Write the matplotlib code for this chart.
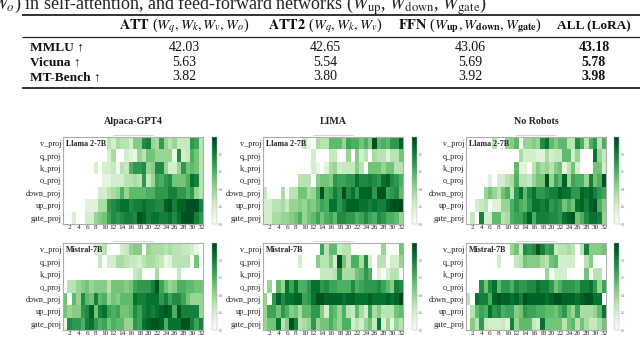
import numpy as np
import matplotlib
matplotlib.use("Agg")
import matplotlib.pyplot as plt

plt.rcParams['font.family'] = ['Liberation Serif', 'DejaVu Serif']
plt.rcParams['mathtext.fontset'] = 'stix'

W, H = 640, 337
layers = list(range(1, 33))
x_ticks = list(range(2, 33, 2))
modules = ["v_proj", "q_proj", "k_proj", "o_proj", "down_proj", "up_proj", "gate_proj"]
dataset_titles = ["Alpaca-GPT4", "LIMA", "No Robots"]

table_columns = [r"$\mathbf{ATT}$ ($W_q, W_k, W_v, W_o$)", r"$\mathbf{ATT2}$ ($W_q, W_k, W_v$)",
                 r"$\mathbf{FFN}$ ($W_{\mathbf{up}}, W_{\mathbf{down}}, W_{\mathbf{gate}}$)", "ALL (LoRA)"]
table_rows = ["MMLU ↑", "Vicuna ↑", "MT-Bench ↑"]
table_values = [["42.03", "42.65", "43.06", "43.18"],
                ["5.63", "5.54", "5.69", "5.78"],
                ["3.82", "3.80", "3.92", "3.98"]]

alpaca_llama = [
 [0,0,0,0,0,0,0,0,0,0,.3,.2,.35,.3,.3,.2,.45,.45,.75,.8,.4,.35,.7,.4,.3,.4,.25,.25,.25,.7,.65,.3],
 [0,0,0,0,0,0,0,0,0,0,.2,.35,0,0,.2,.15,.1,.4,.3,.5,.5,.4,.4,.4,.4,.1,.75,.2,.25,.6,.5,.3],
 [0,0,0,0,0,0,0,.2,0,.2,.2,.25,.05,.3,.25,.6,.7,.7,.75,.4,.45,.75,.75,.4,.2,.2,.4,.7,.5,.55,.5,.3],
 [0,0,0,0,0,0,0,0,0,.12,.12,.2,.2,.2,.3,.3,.35,.3,.7,.25,.4,.65,.6,.7,.75,.5,.5,.5,.6,.85,.8,.3],
 [0,0,0,0,0,0,0,0,.2,.2,.3,.35,.4,.6,.4,.55,.55,.55,.55,.6,.6,.7,.7,.7,.8,.8,.7,.7,.6,.7,.4,.3],
 [0,0,0,0,0,.15,.15,.15,.35,.35,.7,.75,.8,.85,.85,.75,.8,.8,.85,.8,.8,.75,.75,.9,.95,.8,.9,.9,.95,.95,.95,.8],
 [0,0,.18,0,0,.2,.2,.4,.45,.5,.65,.75,.7,.75,.8,.8,.75,.95,.9,.8,.85,.85,.8,.8,.85,.75,.85,.95,.95,.95,.8,.7],
]
alpaca_mistral = [
 [0,0,0,0,0,0,0,.2,.2,.3,0,0,0,.2,.25,.4,.45,.45,0,.4,.35,.35,.35,.3,.35,.3,.3,.25,.25,.2,.1,0],
 [0,0,0,0,0,0,0,0,.25,0,.2,.2,.35,.35,.3,.25,.25,.2,.3,.35,.35,.3,.25,.1,.15,.3,.3,.3,.3,0,.5,0],
 [0,0,0,0,0,0,0,0,0,0,0,0,0,0,0,0,.25,.3,0,0,0,.35,0,0,0,0,.25,0,0,0,0,0],
 [0,.3,.3,.4,.45,.5,.4,.45,.45,.45,.3,.5,.5,.5,.45,.5,.65,.7,.7,.7,.8,.95,.65,.5,.4,.45,.6,.6,.55,.55,.5,.5],
 [.5,0,.55,.4,.75,.55,.5,.8,.55,.6,.4,.5,.45,.55,.55,.55,.85,.8,.8,.85,.85,.85,.7,.8,.65,.75,.75,.65,.5,.4,.4,.4],
 [.5,.4,.45,.45,.7,.75,.9,.5,.8,.85,.65,.6,.65,.5,.5,.55,.75,.65,.8,.85,.8,.85,.9,.95,.9,.6,.95,.8,.8,.8,.8,.4],
 [.1,.75,.7,.7,.6,.8,.85,.7,.6,.65,.5,.6,.55,.55,.4,.4,.7,.65,.85,.9,.95,.95,.9,.6,.85,.85,.85,.95,.95,.8,.65,.8],
]
lima_llama = [
 [0,0,0,0,0,0,0,0,0,.25,.1,0,.35,.3,.3,.55,.55,.55,.4,.65,.6,.6,.5,.6,.45,.95,.55,.6,.55,.7,.7,.9],
 [0,0,0,0,0,0,0,0,0,0,0,.2,0,0,0,.25,.25,0,0,.4,0,.45,.2,.3,0,.35,.3,.3,.15,.3,.3,.5],
 [0,0,0,0,0,0,0,0,0,0,0,.2,.1,0,.15,.35,.4,.2,.25,.25,.25,.45,.3,0,.5,.5,.5,.4,.5,.5,.3,.3],
 [0,0,0,0,0,0,0,0,.3,.3,.3,0,.45,.5,.5,.45,.7,.65,.65,.7,.7,.85,.75,.75,.8,.75,.7,.85,.9,.75,.7,.6],
 [.25,0,0,0,.35,0,.3,.3,.5,.5,.35,.4,.6,.95,.6,.65,.8,.7,.95,.75,.85,.7,.9,.9,.9,.7,.95,.95,.65,.7,.75,.55],
 [.2,.2,.3,.3,.35,.25,.4,.4,.45,.4,.5,.45,.55,.65,.6,.85,.85,.7,.8,.9,.9,.9,.85,.85,.8,.85,.8,.8,.9,.95,.95,1],
 [.2,.2,.35,.35,.4,.4,.45,.5,.6,.4,.5,.55,.65,.5,.6,.65,.55,.75,.75,.7,.7,.6,.65,.75,.65,.6,.75,.7,.6,.6,.55,.4],
]
lima_mistral = [
 [0,0,0,0,0,0,0,0,0,0,0,0,0,.65,.3,.55,.55,.25,.3,.3,0,0,0,0,0,0,0,.4,0,0,0,.5],
 [0,0,0,0,0,0,0,0,.2,0,0,0,.45,.3,.3,.45,.2,.95,.5,.3,.6,.6,.35,.75,.2,0,.3,.3,0,.2,.2,.4],
 [0,0,0,0,0,0,0,0,0,0,0,0,0,.25,.25,.25,.3,.7,.35,.35,.35,.5,.55,.7,.6,0,.15,0,.2,.3,.3,0],
 [0,.4,0,.55,.4,.85,.65,.85,.6,.6,.7,.85,.85,.7,.75,.65,.65,.6,.6,.6,.75,.6,.65,.7,.7,.7,.75,.65,.55,.45,.8,.75],
 [.4,0,.7,.9,.75,.85,.85,.9,.9,.65,.7,.85,.95,.95,.9,.9,.9,.9,.85,.9,.9,.85,.85,.85,.9,.85,.85,.85,.9,.85,.9,1],
 [.4,.65,.65,.5,.7,.6,.45,.5,.35,.55,.55,.7,.7,.45,.2,.6,.55,.4,.6,.3,.25,.55,.35,.2,.65,.35,.45,.3,.3,.3,.5,.55],
 [.4,.5,.5,.85,.3,.45,.95,.8,.3,.35,.4,.7,.4,.5,.5,.6,.5,.4,.6,.6,.2,.3,.2,.4,.5,.25,.85,.15,.4,.1,.4,.3],
]
robots_llama = [
 [0,0,0,0,0,0,.3,0,0,.4,.45,.55,0,.4,.4,.45,.4,.75,.85,.55,.45,.55,.55,.3,.3,.75,.6,.3,.6,.7,.3,.6],
 [0,0,0,0,0,0,0,0,0,0,0,0,.35,.2,.2,.2,.15,.15,.35,.2,.25,.25,.55,.55,.2,.4,0,0,0,.85,.4,.25],
 [0,0,0,0,0,0,0,0,0,0,0,.55,.1,.15,0,.3,.45,.35,.4,.3,.45,.5,.1,.3,.5,.2,0,0,0,.5,.5,.2],
 [0,0,0,0,0,.15,0,.2,.2,.3,.35,.6,.3,.3,.25,.4,.5,.5,.95,.4,.65,.55,.9,.4,.65,.6,.6,.4,.8,.5,.6,.95],
 [0,0,0,0,.4,.5,.4,.3,.5,.6,.3,.7,.85,.55,.75,.85,.7,.7,.75,.8,.8,.9,.85,.85,.7,.7,.9,.85,.9,.8,.7,.65],
 [0,0,.2,.25,.3,0,.15,.15,.4,.4,.6,.7,.6,.55,.7,.85,.85,.8,.85,.7,.75,.7,.5,.6,.5,.85,.9,.8,.9,.95,.6,.45],
 [0,.25,0,.8,.2,.2,.55,.55,.3,.35,.6,.65,.65,.75,.9,.6,.8,.8,.8,.75,.75,.7,.85,.9,.95,.5,.6,.75,.85,.85,.8,.4],
]
robots_mistral = [
 [0,0,0,0,0,0,0,0,0,0,.4,.5,.25,.75,.7,.75,.95,.8,.65,.7,.25,.3,.3,.35,.3,0,.3,.8,.45,.45,.45,.5],
 [0,0,0,0,0,0,0,.2,0,0,0,.25,.3,.5,.45,.45,.45,.35,.3,.5,.55,.2,.2,.2,.2,0,0,.3,.45,0,0,0],
 [0,0,0,0,0,0,0,0,0,0,0,0,0,0,0,0,0,0,.4,0,.2,.2,.2,0,0,0,0,.5,0,.3,.3,0],
 [0,0,0,.75,.5,.75,.85,.55,.7,.7,.6,.75,.7,.7,.75,.75,.85,.8,.8,.7,.5,.6,.7,.7,.7,.65,.8,.8,.85,.7,.4,.65],
 [.3,0,.85,.8,.8,.6,.9,.95,.9,.9,.85,.9,.8,.95,.9,.9,.9,.9,.85,.9,.95,.95,.9,.9,.9,.85,.9,.95,.95,.85,.85,0],
 [0,.3,.55,.65,.6,.85,.7,.75,.6,.65,.65,.45,.5,.7,.65,.65,.6,.6,.55,.55,.5,.6,.7,.5,.4,.65,.35,.35,.35,.4,.55,.85],
 [0,.45,.3,.7,.25,.2,.2,.2,.25,.15,.8,.4,.55,.55,.55,.25,.2,.85,.5,.5,.5,.5,.3,.5,.55,.3,.5,.35,.25,.25,.35,.5],
]
panels = [[alpaca_llama, lima_llama, robots_llama], [alpaca_mistral, lima_mistral, robots_mistral]]
model_labels = ["Llama 2-7B", "Mistral-7B"]
cbar_ticks = [0.0, 0.2, 0.4, 0.6, 0.8]

fig = plt.figure(figsize=(W / 100, H / 100), dpi=100)

def px_axes(x0, y0, x1, y1):
    return fig.add_axes([x0 / W, 1 - y1 / H, (x1 - x0) / W, (y1 - y0) / H])

bg = fig.add_axes([0, 0, 1, 1])
bg.set_xlim(0, W); bg.set_ylim(H, 0); bg.axis("off")

# caption fragment and table
bg.text(-8, 9.5, r"$W_o$) in self-attention, and feed-forward networks ($W_{\mathrm{up}}$, $W_{\mathrm{down}}$, $W_{\mathrm{gate}}$)",
        fontsize=13.0, va="baseline", ha="left", color="#222222")
for y, lw in [(14.7, 1.3), (36.7, 0.9), (88.3, 1.3)]:
    bg.plot([21.5, 640], [y, y], color="#222222", lw=lw, solid_capstyle="butt")
col_x = [184, 325, 470, 594]
for cx, label in zip(col_x, table_columns):
    is_all = label.startswith("ALL")
    bg.text(cx, 26, label, fontsize=9.6 if is_all else 10.4, ha="center", va="center",
            fontweight="bold" if is_all else "normal", color="#111111")
row_y = [47.7, 62.3, 77]
for ry, name, vals in zip(row_y, table_rows, table_values):
    bg.text(30, ry, name, fontsize=9.6, fontweight="bold", ha="left", va="center",
            family=['Liberation Serif', 'DejaVu Sans'], color="#111111")
    for i, (cx, v) in enumerate(zip(col_x, vals)):
        bg.text(cx, ry, v, fontsize=10, ha="center", va="center",
                fontweight="bold" if i == 3 else "normal", color="#111111")

col_left = [63, 263, 466]
col_cbar = [212, 412, 614]
row_top = [137, 243]
cmap = plt.get_cmap("Greens").copy()
cmap.set_bad("white")

for r, ytop in enumerate(row_top):
    for c, xleft in enumerate(col_left):
        ax = px_axes(xleft, ytop, xleft + 140, ytop + 87)
        data = np.ma.masked_equal(np.array(panels[r][c], dtype=float), 0)
        mesh = ax.pcolormesh(np.arange(33), np.arange(8), data, cmap=cmap, vmin=0, vmax=1)
        ax.invert_yaxis()
        ax.set_xticks(np.array(x_ticks) - 0.5, [str(t) for t in x_ticks])
        ax.set_yticks(np.arange(7) + 0.5, modules)
        ax.tick_params(axis="x", labelsize=5.2, length=0.5, width=0.3, pad=0.2, colors="#222222")
        ax.tick_params(axis="y", labelsize=5.9, length=0.5, width=0.3, pad=0.8, colors="#222222")
        for s in ax.spines.values():
            s.set_color("#adadad"); s.set_linewidth(0.8)
        ax.text(0.018, 0.925, model_labels[r], transform=ax.transAxes, fontsize=5.8,
                fontweight="bold", ha="left", va="center", color="#222222")
        if r == 0:
            bg.text(xleft + 70, 122, dataset_titles[c], fontsize=7.2, fontweight="bold",
                    ha="center", va="center", color="#222222")
        # the tiny illegible line above each map
        bg.plot([xleft + 50, xleft + 90], [ytop - 2.5, ytop - 2.5], color="#c8c8c8", lw=0.5)
        cax = px_axes(col_cbar[c], ytop, col_cbar[c] + 5, ytop + 87)
        cb = fig.colorbar(mesh, cax=cax)
        cb.set_ticks(cbar_ticks)
        cb.ax.tick_params(labelsize=2.2, length=0.6, width=0.2, pad=0.6, colors="#555555")
        cb.outline.set_linewidth(0.3)
        cb.outline.set_edgecolor("#b5b5b5")

fig.savefig("out.png", dpi=100)
